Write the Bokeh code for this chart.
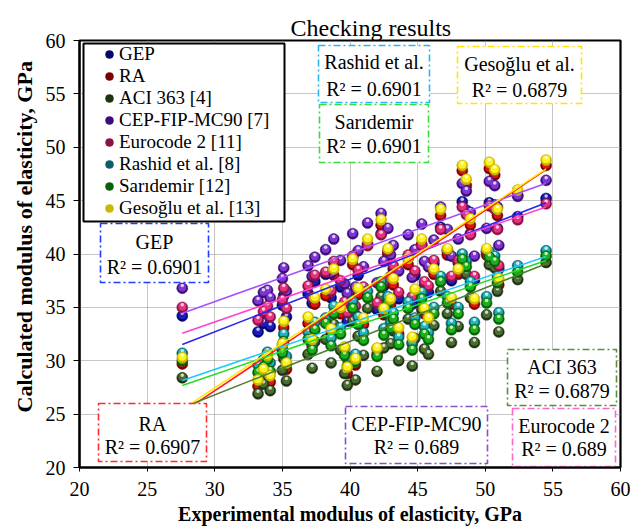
from bokeh.plotting import figure
from bokeh.models import Legend, LegendItem, Title, FixedTicker, Range1d
from bokeh.core.properties import value
from bokeh.embed import file_html
from bokeh.resources import INLINE

FONT = "Liberation Serif"

# ---------------- data ----------------
series_names = ["GEP", "RA", "ACI 363 [4]", "CEP-FIP-MC90 [7]", "Eurocode 2 [11]",
                "Rashid et al. [8]", "Sarıdemir [12]", "Gesoğlu et al. [13]"]
box_titles = ["GEP", "RA", "ACI 363", "CEP-FIP-MC90", "Eurocode 2",
              "Rashid et al.", "Sarıdemir", "Gesoğlu et al."]
r2_values = ["0.6901", "0.6907", "0.6879", "0.689", "0.689", "0.6901", "0.6901", "0.6879"]

exp_x = [27.6, 33.2, 33.6, 33.9, 34.1, 35.0, 35.1, 35.3, 36.9, 37.2,
         37.4, 38.2, 38.6, 38.8, 39.3, 39.6, 39.8, 40.2, 40.4, 40.6,
         41.0, 41.3, 42.0, 42.3, 42.5, 42.8, 43.0, 43.2, 43.6, 44.3,
         44.6, 44.8, 45.3, 45.5, 45.8, 46.2, 46.7, 47.2, 47.5, 48.0,
         48.3, 48.6, 48.9, 49.2, 50.1, 50.3, 50.7, 50.9, 51.0, 52.4,
         54.5]

gep = [34.2, 32.7, 33.5, 34.0, 33.2, 35.2, 36.1, 34.1, 36.3, 35.4,
       37.4, 38.1, 35.9, 39.2, 36.9, 34.8, 33.7, 39.7, 34.3, 38.0,
       36.5, 40.9, 34.8, 41.9, 37.0, 40.2, 37.5, 38.6, 35.8, 39.6,
       35.3, 38.0, 40.8, 37.0, 36.4, 39.1, 42.5, 40.3, 37.5, 39.2,
       44.9, 44.1, 41.9, 37.5, 40.2, 44.8, 44.6, 42.4, 38.6, 43.5,
       45.2]
ra = [29.7, 27.6, 28.7, 29.9, 28.0, 31.0, 33.1, 29.2, 33.5, 31.4,
      35.3, 36.1, 32.4, 38.0, 34.4, 30.6, 28.8, 39.0, 29.6, 36.2,
      33.4, 40.8, 30.6, 42.7, 34.3, 39.9, 35.2, 37.1, 32.5, 39.0,
      31.6, 36.2, 40.9, 34.4, 33.4, 38.1, 43.6, 39.9, 35.3, 38.1,
      47.8, 46.4, 42.7, 35.3, 39.9, 48.0, 47.4, 43.6, 37.1, 45.5,
      48.3]
aci = [28.4, 26.9, 27.8, 28.6, 27.2, 29.1, 30.2, 28.1, 30.6, 29.3,
       31.8, 32.0, 29.8, 33.4, 31.0, 28.8, 27.7, 33.7, 28.2, 32.3,
       30.5, 34.9, 29.0, 36.0, 31.2, 34.3, 31.6, 32.8, 30.0, 33.9,
       29.5, 32.1, 34.8, 31.1, 30.6, 33.3, 36.5, 34.4, 31.7, 33.2,
       38.9, 38.1, 35.9, 31.7, 34.3, 39.0, 38.7, 36.5, 32.7, 37.6,
       39.2]
cep = [36.8, 35.6, 36.4, 36.6, 35.9, 37.7, 38.7, 36.5, 38.9, 37.9,
       39.7, 40.4, 38.2, 41.4, 39.4, 37.2, 36.3, 41.9, 36.9, 40.3,
       38.8, 42.9, 37.3, 43.8, 39.3, 42.4, 39.9, 40.8, 38.4, 41.8,
       37.8, 40.4, 42.8, 39.3, 38.8, 41.3, 44.4, 42.3, 39.8, 41.4,
       46.6, 45.9, 43.9, 39.8, 42.4, 46.8, 46.4, 44.4, 40.8, 45.4,
       46.9]
euro = [35.0, 33.8, 34.6, 35.1, 34.1, 35.7, 36.8, 34.9, 37.0, 35.9,
        38.0, 38.3, 36.5, 39.3, 37.5, 35.5, 34.5, 39.8, 35.1, 38.5,
        36.9, 40.8, 35.4, 41.8, 37.4, 40.3, 37.9, 38.9, 36.4, 39.9,
        36.0, 38.4, 40.8, 37.4, 37.0, 39.4, 42.3, 40.4, 37.9, 39.4,
        44.4, 43.7, 41.8, 37.9, 40.3, 44.5, 44.2, 42.3, 38.9, 43.2,
        44.7]
rashid = [30.7, 29.6, 30.1, 30.8, 29.8, 31.4, 32.5, 30.4, 32.7, 31.6,
          33.6, 34.0, 32.1, 35.1, 33.1, 31.2, 30.2, 35.6, 30.6, 34.1,
          32.6, 36.5, 31.1, 37.4, 33.0, 36.0, 33.6, 34.5, 32.2, 35.5,
          31.7, 34.0, 36.4, 33.2, 32.6, 35.0, 37.9, 36.0, 33.5, 35.0,
          40.0, 39.3, 37.4, 33.6, 36.0, 40.2, 39.8, 37.9, 34.5, 38.9,
          40.3]
saridemir = [30.0, 28.9, 29.4, 30.1, 29.0, 30.7, 31.8, 29.7, 32.0, 31.0,
             32.9, 33.5, 31.4, 34.4, 32.5, 30.5, 29.5, 34.9, 29.9, 33.4,
             31.9, 35.9, 30.4, 36.9, 32.4, 35.4, 33.0, 33.9, 31.5, 34.9,
             31.0, 33.4, 35.8, 32.5, 32.0, 34.4, 37.4, 35.4, 32.9, 34.4,
             39.5, 38.8, 36.9, 32.9, 35.4, 39.7, 39.3, 37.3, 33.9, 38.3,
             39.8]
gesoglu = [30.3, 28.2, 29.2, 30.5, 28.6, 31.6, 33.7, 29.8, 34.1, 32.0,
           35.9, 36.7, 33.0, 38.6, 35.0, 31.3, 29.4, 39.5, 30.2, 36.8,
           34.0, 41.4, 31.2, 43.2, 34.9, 40.5, 35.8, 37.7, 33.1, 39.6,
           32.2, 36.7, 41.4, 34.9, 34.0, 38.6, 44.2, 40.5, 35.9, 38.6,
           48.3, 47.0, 43.3, 35.8, 40.5, 48.6, 47.9, 44.2, 37.7, 46.0,
           48.8]

# trend lines: value at the smallest and at the largest experimental modulus
fit_start = [31.52, 25.16, 25.60, 34.45, 32.58, 28.15, 27.68, 25.45]
fit_end = [44.80, 47.90, 39.08, 46.63, 44.40, 39.77, 39.39, 47.98]

tick_values = [20, 25, 30, 35, 40, 45, 50, 55, 60]

# ---------------- styles / layout ----------------
series_values = [gep, ra, aci, cep, euro, rashid, saridemir, gesoglu]
dark_colors = ["#05056a", "#7a0000", "#1f3312", "#3c0c78", "#8a1246", "#0b5e66", "#0a600a", "#c9b800"]
main_colors = ["#1c1cc0", "#e01515", "#4b6d31", "#7d36d2", "#e6327d", "#1fb6c0", "#19b019", "#fff21e"]
line_colors = ["#2424f0", "#ff1a1a", "#507f30", "#a64fff", "#ff40d0", "#1ec8ff", "#22dd22", "#ffe600"]
box_colors = ["#1f3dff", "#ff2a2a", "#5a8f3a", "#8a4fc8", "#ff66cc", "#29b6f6", "#33e033", "#ffe600"]

# annotation boxes in picture pixels: left, right, top, bottom, first line, second line
box_px = [(100, 208, 223, 282, 241.7, 266.7),
          (98, 206, 403, 461, 423.0, 446.7),
          (507, 616, 349, 405, 366.7, 390.0),
          (345, 487, 406, 463, 423.3, 446.7),
          (512, 615, 408, 466, 425.0, 448.3),
          (318, 429, 45, 102, 61.7, 88.3),
          (319, 428, 104, 162, 121.7, 145.0),
          (457, 581, 46, 103, 63.3, 89.3)]
legend_px = (83, 284, 43, 221)

FL, FR, FT, FB = 79, 620, 40, 467


def dx(px):
    return 20 + (px - FL) * 40.0 / (FR - FL)


def dy(py):
    return 20 + (FB - py) * 40.0 / (FB - FT)


p = figure(width=630, height=527, x_range=Range1d(20, 60), y_range=Range1d(20, 60),
           output_backend="svg", toolbar_location=None,
           min_border_left=FL, min_border_right=630 - FR, min_border_top=FT,
           min_border_bottom=527 - FB, title="Checking results")
p.background_fill_color = "white"
p.border_fill_color = "white"
p.outline_line_color = "black"
p.outline_line_width = 2.2

p.title.text_font = FONT
p.title.text_font_size = "24px"
p.title.text_font_style = "normal"
p.title.text_color = "black"
p.title.align = "left"
p.title.offset = 211
p.title.standoff = 0

for ax in (p.xaxis[0], p.yaxis[0]):
    ax.ticker = FixedTicker(ticks=tick_values)
    ax.major_label_text_font = FONT
    ax.major_label_text_font_size = "20px"
    ax.major_label_text_color = "black"
    ax.axis_line_color = "black"
    ax.axis_line_width = 2
    ax.major_tick_line_color = "black"
    ax.major_tick_in = 0
    ax.minor_tick_line_color = None
p.xaxis.major_tick_out = 4
p.xaxis.major_label_standoff = 10
p.yaxis.major_tick_out = 6
p.yaxis.major_label_standoff = 8

p.xaxis.axis_label = "Experimental modulus of elasticity, GPa"
p.xaxis.axis_label_text_font = FONT
p.xaxis.axis_label_text_font_size = "20px"
p.xaxis.axis_label_text_font_style = "bold"
p.xaxis.axis_label_text_color = "black"
p.xaxis.axis_label_standoff = 4

p.add_layout(Title(text="Calculated modulus of elasticity, GPa", align="left", offset=55,
                   text_font=FONT, text_font_size="22px", text_font_style="bold",
                   text_color="black", standoff=12), "left")

p.grid.grid_line_color = "#8c8c8c"
p.grid.grid_line_dash = "1 1"
p.grid.grid_line_width = 1

# scatter "spheres"
base_renderers = []
for vals, dk, mc in zip(series_values, dark_colors, main_colors):
    r = p.scatter(exp_x, vals, marker="circle", size=11, fill_color=dk, line_color=dk, line_width=0.5)
    p.scatter(exp_x, [v + 0.07 for v in vals], marker="circle", size=8, fill_color=mc, line_color=None)
    p.scatter(exp_x, [v + 0.24 for v in vals], marker="circle", size=3.5, fill_color="white",
              fill_alpha=0.75, line_color=None)
    base_renderers.append(r)

# trend lines
xmin, xmax = min(exp_x), max(exp_x)
p.segment(x0=[xmin] * len(fit_start), y0=fit_start, x1=[xmax] * len(fit_end), y1=fit_end,
          line_color=line_colors, line_width=1.5)

# annotation boxes with white fill
lefts = [dx(b[0]) for b in box_px]
rights = [dx(b[1]) for b in box_px]
tops = [dy(b[2]) for b in box_px]
bottoms = [dy(b[3]) for b in box_px]
p.quad(left=lefts, right=rights, top=tops, bottom=bottoms, fill_color="white",
       line_color=box_colors, line_width=1.6, line_dash="7 3 2 3")
cx = [dx((b[0] + b[1]) / 2.0) for b in box_px]
p.text(x=cx, y=[dy(b[4]) for b in box_px], text=box_titles, text_font=value(FONT),
       text_font_size="20px", text_align="center", text_baseline="middle", text_color="black")
p.text(x=cx, y=[dy(b[5]) for b in box_px], text=["R² = " + v for v in r2_values],
       text_font=value(FONT), text_font_size="20px", text_align="center",
       text_baseline="middle", text_color="black")

# legend frame
p.quad(left=[dx(legend_px[0])], right=[dx(legend_px[1])], top=[dy(legend_px[2])],
       bottom=[dy(legend_px[3])], fill_color="white", line_color="black", line_width=2)

legend = Legend(items=[LegendItem(label=n, renderers=[r]) for n, r in zip(series_names, base_renderers)],
                location=(20, 467 - legend_px[3] + 2), margin=0, padding=0, spacing=0,
                glyph_width=20, glyph_height=22, label_height=22,
                label_standoff=0, label_text_font=FONT, label_text_font_size="19px",
                label_text_color="black", border_line_color=None,
                background_fill_alpha=0.0)
p.add_layout(legend)

open("out.html", "w").write(file_html(p, INLINE))
